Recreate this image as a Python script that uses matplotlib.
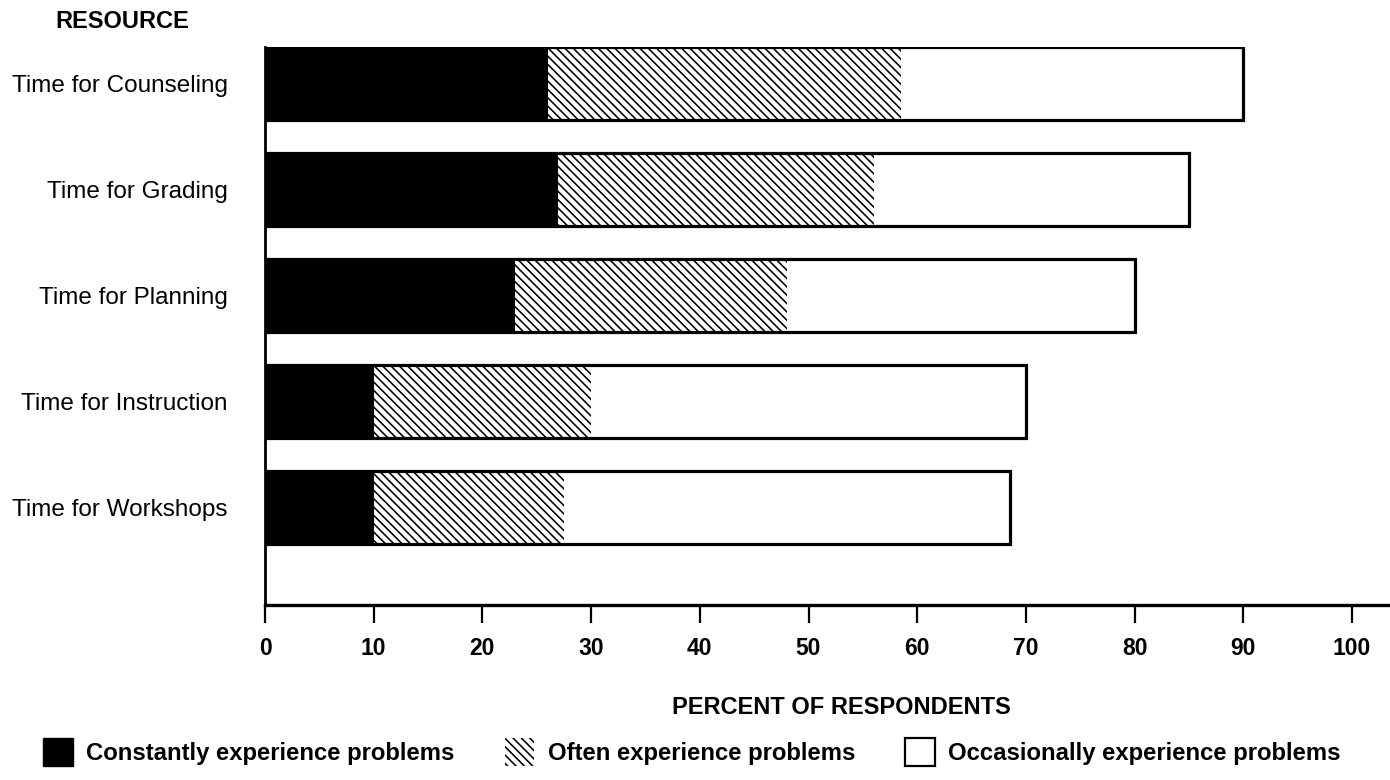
import numpy as np
import matplotlib
matplotlib.use('Agg')
import matplotlib.pyplot as plt
from matplotlib.patches import Patch

plt.rcParams['font.family'] = ['Liberation Sans', 'DejaVu Sans']
plt.rcParams['hatch.linewidth'] = 1.15

# percent of respondents per resource, split by how often problems occur
resources = ['Time for Counseling', 'Time for Grading', 'Time for Planning',
             'Time for Instruction', 'Time for Workshops']
constantly = [26, 27, 23, 10, 10]
often = [32.5, 29, 25, 20, 17.5]
occasionally = [31.5, 29, 32, 40, 41]

series_labels = ['Constantly experience problems', 'Often experience problems',
                 'Occasionally experience problems']
xticks = [0, 10, 20, 30, 40, 50, 60, 70, 80, 90, 100]

W, H = 1390, 780
fig = plt.figure(figsize=(13.9, 7.8), dpi=100)
ax = fig.add_axes([265 / W, (H - 605) / H, (1388 - 265) / W, (605 - 47) / H])

y = np.arange(len(resources))
constantly = np.array(constantly)
often = np.array(often)
occasionally = np.array(occasionally)
total = constantly + often + occasionally
hatch = '\\' * 4
bh = 0.69

ax.barh(y, constantly, height=bh, color='black', linewidth=0)
ax.barh(y, often, left=constantly, height=bh, color='white', edgecolor='black',
        hatch=hatch, linewidth=0)
ax.barh(y, occasionally, left=constantly + often, height=bh, color='white', linewidth=0)
# outline around each whole bar
ax.barh(y, total, height=bh, fill=False, edgecolor='black', linewidth=2.3)

ax.set_xlim(0, (1388 - 265) / 10.87)
ax.set_ylim(4.925, -0.345)
ax.set_xticks(xticks)
ax.set_xticklabels([str(t) for t in xticks], fontsize=16.5, fontweight='bold')
ax.set_yticks(y)
ax.set_yticklabels(resources, fontsize=17.5)
ax.tick_params(axis='y', length=0, pad=27)
ax.tick_params(axis='x', direction='out', length=13, width=1.6, pad=10)

for s in ['top', 'right']:
    ax.spines[s].set_visible(False)
ax.spines['left'].set_linewidth(2.0)
ax.spines['bottom'].set_linewidth(2.4)

ax.set_xlabel('PERCENT OF RESPONDENTS', fontsize=17, fontweight='bold')
ax.xaxis.set_label_coords((841 - 265) / (1388 - 265), (605 - 707) / (605 - 47))
ax.xaxis.label.set_va('center')

fig.text(55 / W, 1 - 22 / H, 'RESOURCE', fontsize=17, fontweight='bold',
         ha='left', va='center')

handles = [Patch(facecolor='black', edgecolor='black'),
           Patch(facecolor='white', edgecolor='black', hatch=hatch, linewidth=0),
           Patch(facecolor='white', edgecolor='black', linewidth=1.6)]
fig.legend(handles, series_labels, loc='center left',
           bbox_to_anchor=(43 / W, 1 - 752 / H), ncol=3, frameon=False,
           prop={'size': 17.2, 'weight': 'bold'}, handlelength=1.25, handleheight=1.45,
           handletextpad=0.55, columnspacing=2.1, borderpad=0, borderaxespad=0)

fig.savefig('out.png', dpi=100)
